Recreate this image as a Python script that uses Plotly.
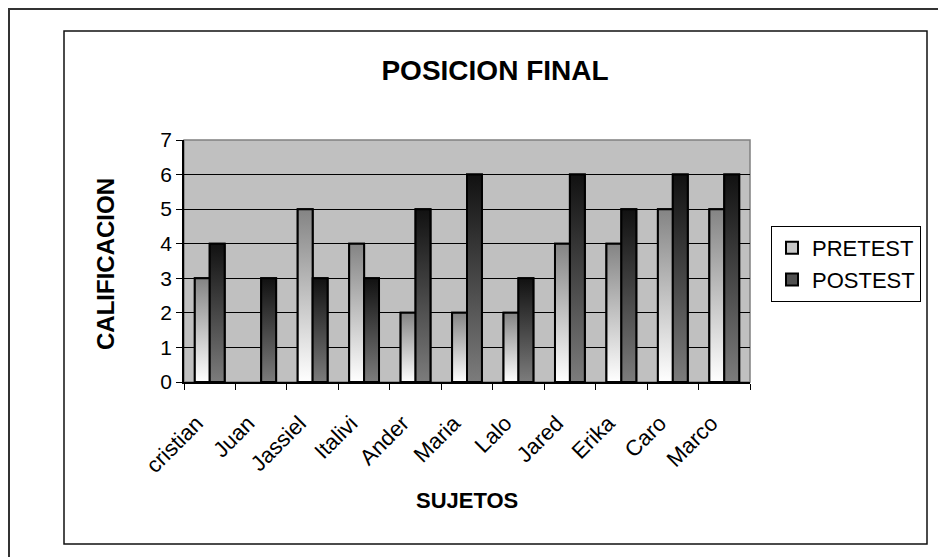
import plotly.graph_objects as go

# data
sujetos = ["cristian", "Juan", "Jassiel", "Italivi", "Ander", "Maria",
           "Lalo", "Jared", "Erika", "Caro", "Marco"]
pretest = [3, 0, 5, 4, 2, 2, 2, 4, 4, 5, 5]
postest = [4, 3, 3, 3, 5, 6, 3, 6, 5, 6, 6]
y_ticks = [0, 1, 2, 3, 4, 5, 6, 7]

FONT = "Liberation Sans, Arial, sans-serif"
OFF = 8  # page body margin, figure is drawn at (8, 8)
W, H = 946 - OFF, 557 - OFF
# plot area in reference pixels
PL, PR, PT, PB = 184, 750, 140, 382
BW = 0.29  # bar width in category units


def px_x(p):
    return (p - PL) / (PR - PL)


def px_y(p):
    return (PB - p) / (PB - PT)


series = [
    ("PRETEST", pretest, -BW, "#c8c8c8", [[0, "#ffffff"], [1, "#848484"]]),
    ("POSTEST", postest, 0.0, "#505050", [[0, "#7c7c7c"], [1, "#111111"]]),
]

fig = go.Figure()
idx = list(range(len(sujetos)))

# base bars (carry the legend)
for name, vals, off, col, _ in series:
    fig.add_trace(go.Bar(
        x=idx, y=vals, name=name, width=BW, offset=off,
        marker=dict(color=col, line=dict(
            color="black", width=[2 if v > 0 else 0 for v in vals])),
    ))

# gradient overlay on each bar
for name, vals, off, col, cs in series:
    for i, v in zip(idx, vals):
        if v <= 0:
            continue
        x0, x1 = i + off, i + off + BW
        fig.add_trace(go.Scatter(
            x=[x0, x0, x1, x1, x0], y=[0, v, v, 0, 0],
            mode="lines", fill="toself",
            fillgradient=dict(type="vertical", colorscale=cs),
            line=dict(color="black", width=2),
            showlegend=False, hoverinfo="skip",
        ))

shapes = [
    # plot area border
    dict(type="rect", xref="paper", yref="paper", x0=0, x1=1, y0=0, y1=1,
         line=dict(color="#808080", width=1.5), layer="below"),
    # outer frame
    dict(type="rect", xref="paper", yref="paper",
         x0=px_x(9), x1=px_x(990), y0=px_y(600), y1=px_y(9),
         line=dict(color="#333333", width=2), layer="below"),
    # chart frame
    dict(type="rect", xref="paper", yref="paper",
         x0=px_x(64), x1=px_x(927), y0=px_y(544), y1=px_y(31),
         line=dict(color="#111111", width=1.5), layer="below"),
]

annotations = [
    dict(text="<b>CALIFICACION</b>", textangle=-90, showarrow=False,
         xref="paper", yref="paper", x=px_x(105), y=px_y(264),
         xanchor="center", yanchor="middle",
         font=dict(family=FONT, size=24, color="black")),
    dict(text="<b>SUJETOS</b>", showarrow=False,
         xref="paper", yref="paper", x=px_x(467), y=px_y(500),
         xanchor="center", yanchor="middle",
         font=dict(family=FONT, size=22, color="black")),
]

fig.update_layout(
    width=W, height=H,
    margin=dict(l=PL - OFF, r=W - (PR - OFF), t=PT - OFF, b=H - (PB - OFF)),
    paper_bgcolor="white", plot_bgcolor="#c0c0c0",
    font=dict(family=FONT, color="black"),
    title=dict(text="<b>POSICION FINAL</b>", x=(495 - OFF) / W,
               y=1 - (70 - OFF) / H,
               xref="container", yref="container",
               xanchor="center", yanchor="middle",
               font=dict(family=FONT, size=28, color="black")),
    showlegend=True,
    legend=dict(x=px_x(771), y=px_y(226), xanchor="left", yanchor="top",
                bordercolor="black", borderwidth=1, bgcolor="white",
                font=dict(family=FONT, size=22, color="black"),
                traceorder="normal"),
    shapes=shapes, annotations=annotations,
    xaxis=dict(range=[-0.5, len(sujetos) - 0.5], tickmode="array",
               tickvals=idx, ticktext=sujetos, tickangle=-45, ticks="",
               ticklabelstandoff=18, ticklabelshift=-13,
               showgrid=False, zeroline=False, showline=True,
               linecolor="black", linewidth=1.5,
               tickfont=dict(family=FONT, size=22, color="black"),
               minor=dict(tickmode="array",
                          tickvals=[i - 0.5 for i in range(len(sujetos) + 1)],
                          ticks="outside", ticklen=6, tickcolor="black",
                          tickwidth=1, showgrid=False)),
    yaxis=dict(range=[0, 7], tickmode="array", tickvals=y_ticks,
               ticks="outside", ticklen=6, tickcolor="black",
               showgrid=True, gridcolor="black", gridwidth=1,
               zeroline=False, showline=True, linecolor="black",
               linewidth=1.5,
               tickfont=dict(family=FONT, size=21, color="black")),
)

fig.write_html("out.html")
